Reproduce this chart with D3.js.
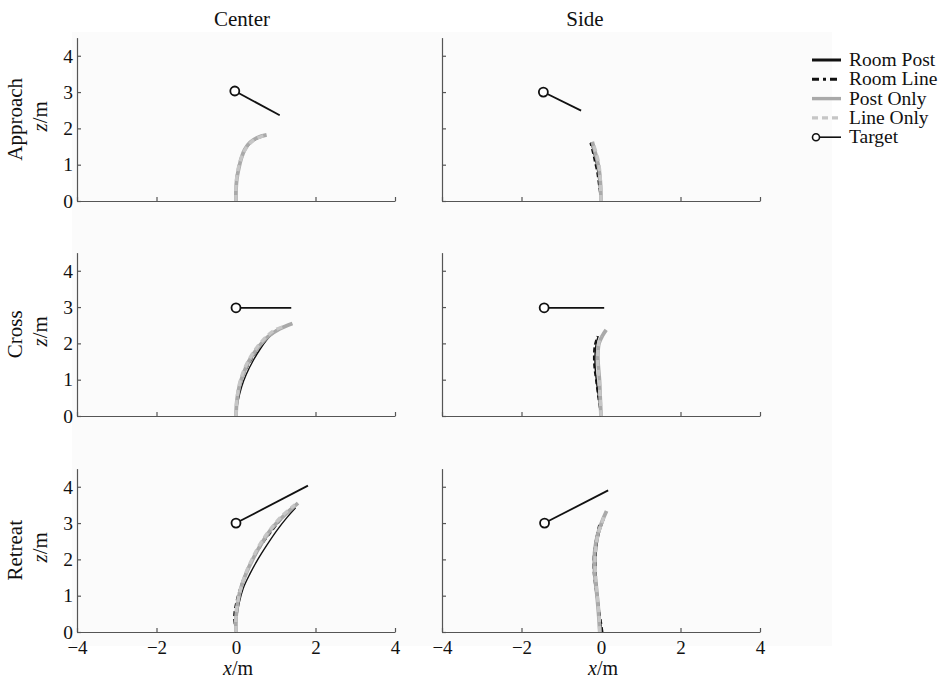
<!DOCTYPE html>
<html>
<head>
<meta charset="utf-8">
<script src="https://cdn.jsdelivr.net/npm/d3@7"></script>
<style>
  body { margin: 0; background: #fff; }
  svg text { font-family: "Liberation Serif", "DejaVu Serif", serif; fill: #111; }
</style>
</head>
<body>
<div id="chart"></div>
<script>
(function() {
var width = 952, height = 680;

// row / column labels
var rows = ["Approach", "Cross", "Retreat"];
var cols = ["Center", "Side"];
var xTicks = [-4, -2, 0, 2, 4];
var zTicks = [0, 1, 2, 3, 4];
var legendLabels = ["Room Post", "Room Line", "Post Only", "Line Only", "Target"];

// target marker (circle) and its heading line end, one per panel (row-major)
var targetStart = [[-0.03, 3.03], [-1.45, 3.0], [0, 2.98], [-1.43, 2.98], [0, 3.0], [-1.42, 3.0]];
var targetEnd   = [[1.1, 2.36], [-0.5, 2.49], [1.39, 2.98], [0.08, 2.98], [1.81, 4.03], [0.18, 3.9]];

// trajectories [x, z] per panel
var roomPost = [
  [[0,0],[0,0.4],[0.04,0.8],[0.12,1.15],[0.25,1.45],[0.42,1.65],[0.62,1.75]],
  [[0,0],[-0.04,0.4],[-0.08,0.8],[-0.13,1.1],[-0.19,1.35],[-0.25,1.62]],
  [[0,0],[0.05,0.4],[0.14,0.8],[0.26,1.15],[0.42,1.5],[0.63,1.88],[0.86,2.2],[1.1,2.42]],
  [[0,0],[-0.06,0.5],[-0.12,1.0],[-0.15,1.4],[-0.15,1.7],[-0.12,2.0],[-0.07,2.2]],
  [[0,0],[0.02,0.4],[0.08,0.8],[0.18,1.2],[0.35,1.6],[0.55,2.0],[0.78,2.4],[1.03,2.8],[1.28,3.15],[1.5,3.42]],
  [[0.02,0],[-0.03,0.5],[-0.08,1.0],[-0.12,1.5],[-0.13,1.9],[-0.11,2.3],[-0.05,2.7],[0.08,3.12]]
];
var roomLine = [
  [[0,0],[0,0.4],[0.03,0.8],[0.12,1.17],[0.26,1.48],[0.44,1.67],[0.6,1.76]],
  [[0,0],[-0.05,0.4],[-0.1,0.8],[-0.16,1.1],[-0.21,1.35],[-0.27,1.6]],
  [[0,0],[0.03,0.4],[0.09,0.8],[0.2,1.15],[0.36,1.5],[0.58,1.88],[0.84,2.2],[1.12,2.44]],
  [[0,0],[-0.07,0.5],[-0.13,1.0],[-0.17,1.35],[-0.18,1.65],[-0.16,1.95],[-0.09,2.2]],
  [[0,0],[-0.05,0.4],[0.0,0.8],[0.1,1.2],[0.24,1.6],[0.43,2.0],[0.66,2.42],[0.93,2.82],[1.2,3.18],[1.43,3.45]],
  [[0.04,0],[0,0.3],[-0.07,0.7],[-0.14,1.2],[-0.19,1.7],[-0.18,2.2],[-0.12,2.6],[-0.05,2.95]]
];
var postOnly = [
  [[0,0],[0,0.3],[0.02,0.6],[0.07,0.9],[0.14,1.2],[0.22,1.42],[0.36,1.62],[0.55,1.75],[0.77,1.82]],
  [[0,0],[-0.01,0.4],[-0.04,0.8],[-0.09,1.1],[-0.15,1.35],[-0.22,1.63]],
  [[0,0],[0.02,0.4],[0.08,0.8],[0.18,1.15],[0.32,1.5],[0.55,1.88],[0.82,2.2],[1.1,2.4],[1.42,2.55]],
  [[0,0],[-0.02,0.5],[-0.04,1.0],[-0.07,1.4],[-0.08,1.7],[-0.05,2.0],[0.03,2.2],[0.13,2.37]],
  [[0,0],[0,0.4],[0.04,0.8],[0.12,1.2],[0.25,1.6],[0.42,2.0],[0.65,2.45],[0.9,2.85],[1.2,3.2],[1.56,3.55]],
  [[-0.03,0],[-0.06,0.5],[-0.1,1.0],[-0.15,1.5],[-0.17,1.9],[-0.15,2.3],[-0.08,2.7],[0.03,3.05],[0.14,3.33]]
];
var lineOnly = [
  [[0,0],[0,0.4],[0.04,0.8],[0.12,1.15],[0.25,1.45],[0.45,1.68],[0.7,1.8]],
  [[0,0],[-0.01,0.4],[-0.03,0.8],[-0.07,1.1],[-0.13,1.35],[-0.2,1.6]],
  [[0,0],[0.02,0.4],[0.07,0.8],[0.16,1.15],[0.3,1.5],[0.52,1.88],[0.78,2.2],[1.0,2.38],[1.2,2.46]],
  [[0,0],[-0.02,0.5],[-0.05,1.0],[-0.08,1.4],[-0.08,1.7],[-0.06,2.0],[0,2.2]],
  [[0,0],[0,0.4],[0.04,0.8],[0.12,1.2],[0.24,1.6],[0.4,2.0],[0.62,2.45],[0.88,2.85],[1.16,3.2],[1.48,3.5]],
  [[-0.03,0],[-0.05,0.5],[-0.09,1.0],[-0.13,1.5],[-0.15,1.9],[-0.13,2.3],[-0.07,2.7],[0.02,3.0],[0.1,3.25]]
];

var styles = {
  "Room Post": {data: roomPost, color: "#111", w: 1.4, dash: null},
  "Room Line": {data: roomLine, color: "#111", w: 1.8, dash: "5,3"},
  "Post Only": {data: postOnly, color: "#a9a9a9", w: 3.8, dash: null},
  "Line Only": {data: lineOnly, color: "#c6c6c6", w: 3.4, dash: "6,4"}
};
var drawOrder = ["Room Post", "Room Line", "Post Only", "Line Only"];

var colX = [77, 442], panelW = 318;
var rowBottom = [201, 416, 632], panelH = 163.4;
var titleShift = [6, -16];

var svg = d3.select("#chart").append("svg")
  .attr("width", width).attr("height", height);

// faint plot-area background
svg.append("rect")
  .attr("x", 72).attr("y", 32).attr("width", 760).attr("height", 614)
  .style("fill", "#fbfbfb");

function label(x, y, rot, size, anchor) {
  return svg.append("text")
    .attr("transform", "translate(" + x + "," + y + ")" + (rot ? " rotate(" + rot + ")" : ""))
    .attr("text-anchor", anchor || "middle")
    .style("font-size", size + "px");
}

rows.forEach(function(rowName, r) {
  cols.forEach(function(colName, c) {
    var idx = r * 2 + c;
    var x = d3.scaleLinear().domain([-4, 4]).range([colX[c], colX[c] + panelW]);
    var y = d3.scaleLinear().domain([0, 4.5]).range([rowBottom[r], rowBottom[r] - panelH]);
    var g = svg.append("g");

    // axes
    var xAxis = d3.axisBottom(x).tickValues(xTicks).tickSizeInner(-4).tickSizeOuter(0)
      .tickFormat(r == 2 ? function(d) { return d < 0 ? "\u2212" + Math.abs(d) : d } : "");
    var gx = g.append("g").attr("transform", "translate(0," + rowBottom[r] + ")").call(xAxis);
    gx.selectAll("text").attr("dy", null).attr("y", 22).style("font-size", "19px");

    var yAxis = d3.axisLeft(y).tickValues(zTicks).tickSizeInner(-4).tickSizeOuter(0)
      .tickFormat(c == 0 ? d3.format("d") : "");
    var gy = g.append("g").attr("transform", "translate(" + colX[c] + ",0)").call(yAxis);
    gy.selectAll("text").attr("x", -4).attr("dy", "0.32em").style("font-size", "19.5px");

    g.selectAll(".domain, .tick line").style("stroke", "#555").style("stroke-width", 1.2);

    var line = d3.line()
      .x(function(d) { return x(d[0]) })
      .y(function(d) { return y(d[1]) })
      .curve(d3.curveCatmullRom);

    drawOrder.forEach(function(name) {
      var s = styles[name];
      g.append("path")
        .attr("d", line(s.data[idx]))
        .style("fill", "none")
        .style("stroke", s.color)
        .style("stroke-width", s.w)
        .style("stroke-dasharray", s.dash);
    });

    // target
    g.append("line")
      .attr("x1", x(targetStart[idx][0])).attr("y1", y(targetStart[idx][1]))
      .attr("x2", x(targetEnd[idx][0])).attr("y2", y(targetEnd[idx][1]))
      .style("stroke", "#111").style("stroke-width", 1.8);
    g.append("circle")
      .attr("cx", x(targetStart[idx][0])).attr("cy", y(targetStart[idx][1]))
      .attr("r", 4.5)
      .style("fill", "#fff").style("stroke", "#111").style("stroke-width", 1.8);

    if (r == 0) label(x(0) + titleShift[c], 26, 0, 21).text(colName);
    if (r == 2) {
      var xl = label(x(0) + 2, 675, 0, 20);
      xl.append("tspan").style("font-style", "italic").text("x");
      xl.append("tspan").text("/m");
    }
    if (c == 0) {
      var cy = y(2.25);
      label(22, cy, -90, 21).text(rowName);
      var zl = label(47, cy - 3, -90, 21);
      zl.append("tspan").style("font-style", "italic").text("z");
      zl.append("tspan").text("/m");
    }
  });
});

// legend
var legend = svg.append("g").attr("transform", "translate(812,60)");
var items = legend.selectAll("g").data(legendLabels).enter().append("g")
  .attr("transform", function(d, i) { return "translate(0," + (i * 19.3) + ")" });
items.each(function(d, i) {
  var it = d3.select(this);
  if (i < 4) {
    var s = styles[d];
    it.append("line").attr("x1", 0).attr("x2", 29).attr("y1", 0).attr("y2", 0)
      .style("stroke", s.color).style("stroke-width", i < 2 ? 3 : 3.4)
      .style("stroke-dasharray", i == 1 ? "7,4,3,4" : (i == 3 ? "6,4" : null));
  } else {
    it.append("line").attr("x1", 4).attr("x2", 29).attr("y1", 0).attr("y2", 0)
      .style("stroke", "#111").style("stroke-width", 1.6);
    it.append("circle").attr("cx", 4).attr("cy", 0).attr("r", 3.5)
      .style("fill", "#fff").style("stroke", "#111").style("stroke-width", 1.6);
  }
  it.append("text").attr("x", 37).attr("y", 6)
    .style("font-size", "19.5px").text(d);
});
})()
</script>
</body>
</html>
